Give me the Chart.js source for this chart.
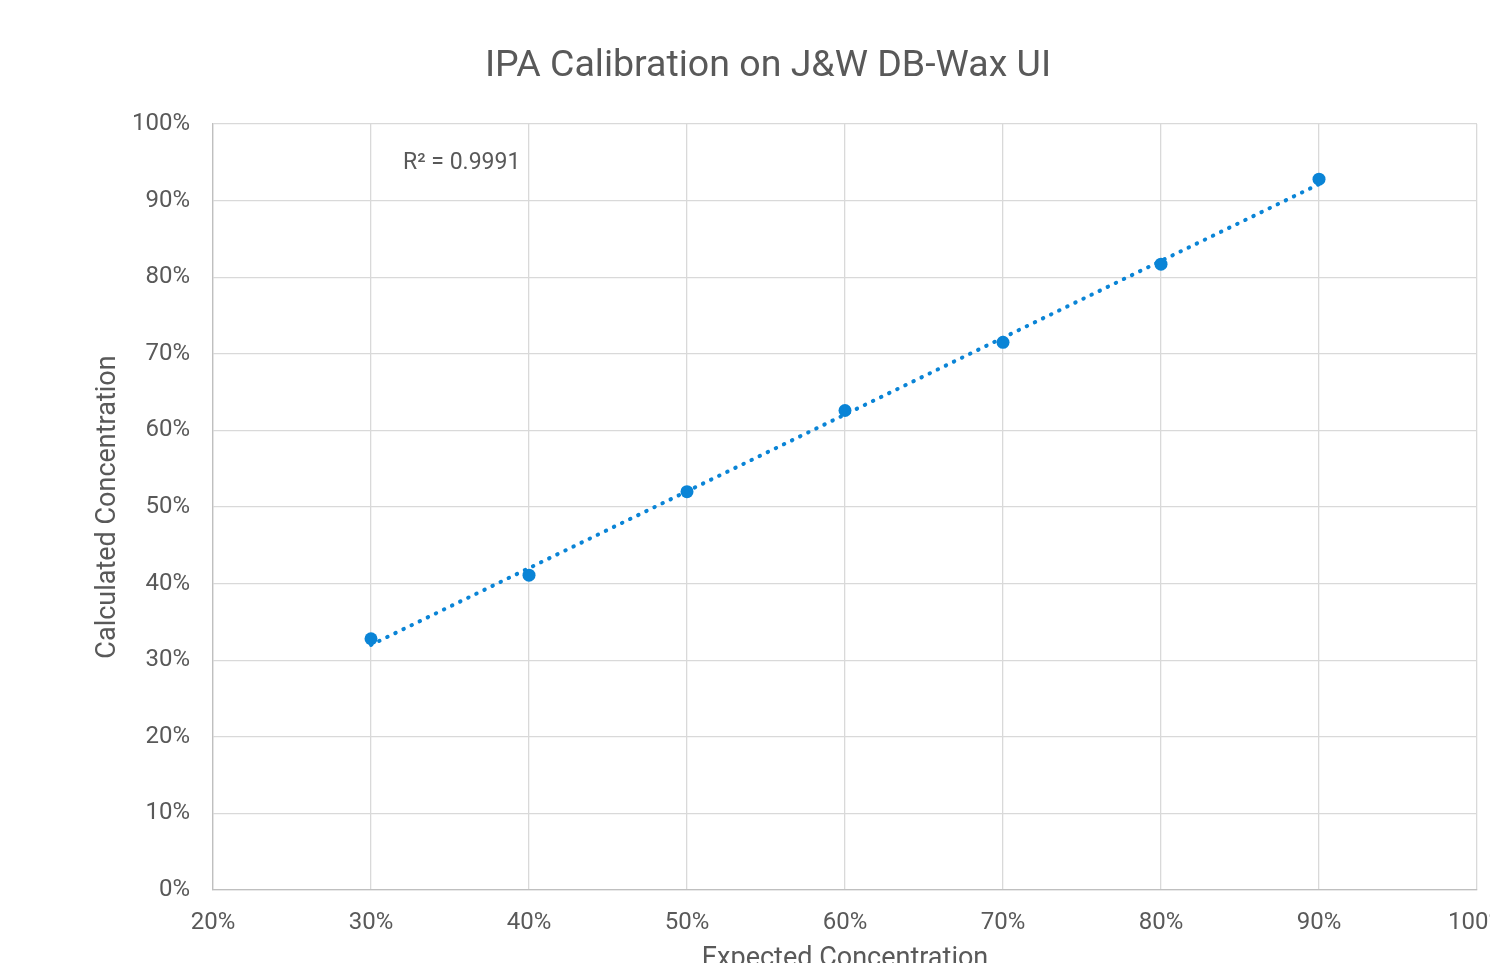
<!DOCTYPE html>
<html>
<head>
<meta charset="utf-8">
<title>IPA Calibration</title>
<script src="https://cdn.jsdelivr.net/npm/chart.js@4.4.1/dist/chart.umd.min.js"></script>
<style>
  html, body { margin: 0; padding: 0; background: #fff; overflow: hidden; width: 1490px; height: 963px; }
  #wrap { position: absolute; left: 0; top: 0; width: 1536px; height: 1000px; }
</style>
</head>
<body>
<div id="wrap"><canvas id="calib" width="1536" height="1000"></canvas></div>
<script>
// chart data
const chartTitle = 'IPA Calibration on J&W DB-Wax UI';
const xTitle = 'Expected Concentration';
const yTitle = 'Calculated Concentration';
const rSquaredLabel = 'R² = 0.9991';

const expected   = [30, 40, 50, 60, 70, 80, 90];            // % expected
const calculated = [32.8, 41.1, 52.0, 62.6, 71.5, 81.7, 92.8]; // % calculated

const xRange = [20, 100];
const yRange = [0, 100];
const tickStep = 10;

(function(){
  'use strict';

  const TEXT = '#595959';
  const GRID = '#d9d9d9';
  const AXIS = '#bfbfbf';
  const BLUE = '#0a84d6';
  const FONT = 'Roboto';

  // linear least squares trendline through the measured points
  function fitLine(xs, ys){
    const n = xs.length;
    let sx = 0, sy = 0, sxy = 0, sxx = 0;
    for(let i=0;i<n;i++){ sx += xs[i]; sy += ys[i]; sxy += xs[i]*ys[i]; sxx += xs[i]*xs[i]; }
    const m = (n*sxy - sx*sy) / (n*sxx - sx*sx);
    const b = (sy - m*sx) / n;
    return { m, b };
  }

  const fit = fitLine(expected, calculated);
  const x0 = expected[0], x1 = expected[expected.length-1];
  const trend = [{ x: x0, y: fit.m*x0 + fit.b }, { x: x1, y: fit.m*x1 + fit.b }];
  const points = expected.map((x, i) => ({ x: x, y: calculated[i] }));

  // title + R² label drawn on top of the chart
  const overlay = {
    id: 'overlay',
    afterDraw(chart){
      const ctx = chart.ctx;
      ctx.save();
      ctx.fillStyle = TEXT;
      ctx.textBaseline = 'middle';
      ctx.textAlign = 'center';
      ctx.font = '37.5px ' + FONT;
      ctx.fillText(chartTitle, 768, 67);
      ctx.textAlign = 'left';
      ctx.font = '23px ' + FONT;
      ctx.fillText(rSquaredLabel, 403, 163);
      ctx.restore();
    }
  };

  const pct = v => v + '%';

  new Chart(document.getElementById('calib').getContext('2d'), {
    type: 'scatter',
    data: {
      datasets: [
        { label: 'Calculated', data: points, showLine: false,
          backgroundColor: BLUE, borderColor: BLUE, pointRadius: 6.5, pointHoverRadius: 6.5, borderWidth: 0, order: 2 },
        { label: 'Linear trend', data: trend, showLine: true, fill: false,
          borderColor: BLUE, borderWidth: 4, borderDash: [0.5, 8.5], borderCapStyle: 'round',
          pointRadius: 0, pointHoverRadius: 0, order: 1 }
      ]
    },
    options: {
      responsive: false,
      maintainAspectRatio: false,
      animation: false,
      layout: { padding: { left: 0, right: 59, top: 124, bottom: 0 } },
      plugins: { legend: { display: false }, tooltip: { enabled: false }, title: { display: false } },
      scales: {
        x: {
          type: 'linear', min: xRange[0], max: xRange[1],
          afterFit(scale){ scale.height = 110; },
          ticks: { stepSize: tickStep, callback: pct, color: TEXT, padding: 19, font: { family: FONT, size: 24 }, maxRotation: 0 },
          grid: { color: GRID, lineWidth: 1.3, drawTicks: false },
          border: { color: AXIS, width: 1.3 },
          title: { display: true, text: xTitle, color: TEXT, font: { family: FONT, size: 27 }, padding: { top: 0, bottom: 25 } }
        },
        y: {
          type: 'linear', min: yRange[0], max: yRange[1],
          afterFit(scale){ scale.width = 213; },
          ticks: { stepSize: tickStep, callback: pct, color: TEXT, padding: 23, font: { family: FONT, size: 24 } },
          grid: { color: GRID, lineWidth: 1.3, drawTicks: false },
          border: { color: AXIS, width: 1.3 },
          title: { display: true, text: yTitle, color: TEXT, font: { family: FONT, size: 27 }, padding: { top: 92, bottom: 0 } }
        }
      }
    },
    plugins: [overlay]
  });
})();
</script>
</body>
</html>
